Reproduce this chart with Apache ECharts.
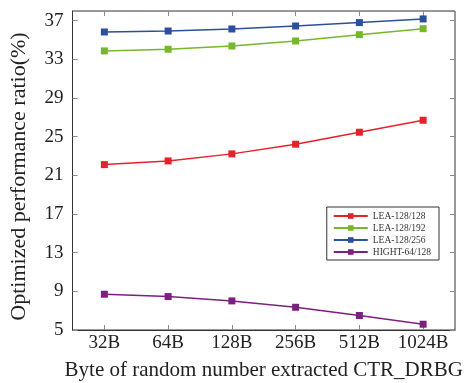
<!DOCTYPE html>
<html><head><meta charset="utf-8">
<script src="https://cdn.jsdelivr.net/npm/echarts@6/dist/echarts.min.js"></script>
<style>html,body{margin:0;padding:0;background:#fff}#c{width:466px;height:383px}</style>
</head><body><div id="c"></div>
<script>
const categories = ['32B','64B','128B','256B','512B','1024B'];
const lea128 = [22.11, 22.49, 23.22, 24.22, 25.46, 26.70];
const lea192 = [33.87, 34.04, 34.38, 34.90, 35.55, 36.17];
const lea256 = [35.83, 35.93, 36.14, 36.45, 36.80, 37.18];
const hight = [8.70, 8.46, 8.01, 7.35, 6.50, 5.60];
const seriesNames = ['LEA-128/128','LEA-128/192','LEA-128/256','HIGHT-64/128'];
const colors = ['#e6212b','#76b82a','#2c4f9e','#7d1f80'];
const yMin = 5, yMax = 38, yInterval = 4;

const font = 'Liberation Serif';
const chart = echarts.init(document.getElementById('c'));
const tickStyle = {lineStyle:{color:'#888', width:1}};
const mk = (name, data, i) => ({
  name, type:'line', data, symbol:'rect', symbolSize:7,
  itemStyle:{color:colors[i]}, lineStyle:{color:colors[i], width:1.5},
  xAxisIndex:0, yAxisIndex:0, animation:false
});
chart.setOption({
  animation:false,
  textStyle:{fontFamily:font},
  grid:{left:72.5, right:11, top:11, bottom:53, show:true, borderColor:'#333', borderWidth:1, containLabel:false, outerBoundsMode:'none'},
  legend:{
    orient:'vertical', right:27, top:207, data:seriesNames,
    itemWidth:34, itemHeight:7, itemGap:2,
    padding:[4,8,3,6],
    borderColor:'#333', borderWidth:1, backgroundColor:'#fff',
    textStyle:{fontFamily:font, fontSize:9.5, color:'#333'}
  },
  xAxis:[{
    type:'category', data:categories, boundaryGap:true, position:'bottom',
    axisLine:{show:true, lineStyle:{color:'#333'}},
    axisTick:{show:true, inside:true, alignWithLabel:true, length:5, ...tickStyle},
    axisLabel:{fontFamily:font, fontSize:19, color:'#222', margin:4, interval:0, hideOverlap:false},
    name:'Byte of random number extracted CTR_DRBG', nameLocation:'middle', nameGap:30,
    nameTextStyle:{fontFamily:font, fontSize:21, color:'#222'},
    splitLine:{show:false}
  },{
    type:'category', data:categories, boundaryGap:true, position:'top',
    axisLine:{show:false},
    axisTick:{show:true, inside:true, alignWithLabel:true, length:5, ...tickStyle},
    axisLabel:{show:false}, splitLine:{show:false}
  }],
  yAxis:[{
    type:'value', min:yMin, max:yMax, interval:yInterval, position:'left',
    axisLine:{show:true, lineStyle:{color:'#333'}},
    axisTick:{show:true, inside:true, length:5, ...tickStyle},
    axisLabel:{fontFamily:font, fontSize:19, color:'#222', margin:9, showMaxLabel:false},
    splitLine:{show:false},
    name:'Optimized performance ratio(%)', nameLocation:'middle', nameGap:42, nameRotate:90,
    nameTextStyle:{fontFamily:font, fontSize:22, color:'#222', padding:[0,12,0,0]}
  },{
    type:'value', min:yMin, max:yMax, interval:yInterval, position:'right',
    axisLine:{show:false},
    axisTick:{show:true, inside:true, length:5, ...tickStyle},
    axisLabel:{show:false}, splitLine:{show:false}
  }],
  series:[mk(seriesNames[0], lea128, 0), mk(seriesNames[1], lea192, 1), mk(seriesNames[2], lea256, 2), mk(seriesNames[3], hight, 3)]
});
</script></body></html>
